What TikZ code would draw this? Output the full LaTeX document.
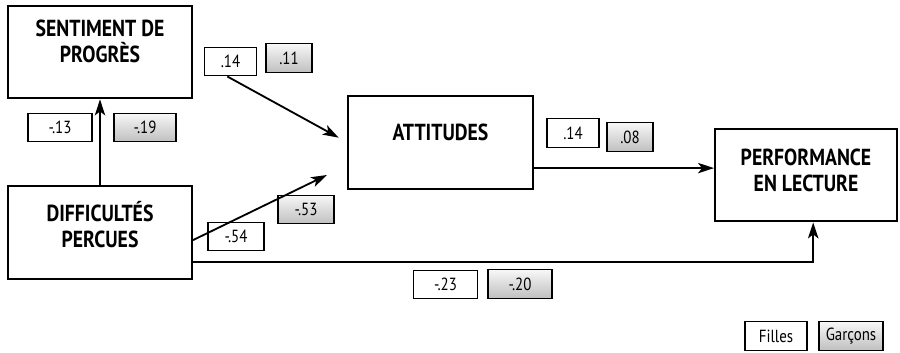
\documentclass[tikz,border=0pt]{standalone}
\usepackage{fontspec}
\setmainfont{PT Sans}[FakeStretch=0.85]
\usetikzlibrary{arrows.meta}

\begin{document}
\begin{tikzpicture}[x=0.025cm, y=-0.025cm,
    facteur/.style={draw, line width=1.4pt, minimum width=4.6cm, minimum height=2.32cm},
    titre/.style={align=center, font=\fontsize{16.5}{18.5}\selectfont\bfseries},
    coefF/.style={draw, line width=0.8pt, minimum height=0.72cm, inner sep=1pt, font=\fontsize{12.5}{14}\selectfont},
    coefG/.style={coefF, top color=gray!6, bottom color=gray!50},
    fleche/.style={line width=1.3pt, -{Stealth[length=4mm, width=2.6mm, inset=1mm]}}]
    \useasboundingbox (0,0) rectangle (900,353);

    % les quatre facteurs
    \node[facteur, label={[titre, yshift=0.26cm]center:SENTIMENT DE\\PROGRÈS}] (sent) at (100,52) {};
    \node[facteur, label={[titre, yshift=0.19cm]center:DIFFICULTÉS\\PERCUES}] (diff) at (100,232.5) {};
    \node[facteur, label={[titre, yshift=0.26cm]center:ATTITUDES}] (att) at (440.5,142.5) {};
    \node[facteur, minimum width=4.55cm, label={[titre, yshift=0.11cm]center:PERFORMANCE\\EN LECTURE}] (perf) at (806,175) {};

    % coefficients (filles / garcons)
    \node[coefF, minimum width=1.6cm] (c13f) at (60,127.5) {-.13};
    \node[coefG, minimum width=1.55cm] (c13g) at (145,127.5) {-.19};
    \node[coefF, minimum width=1.32cm] (c14f) at (230.5,61.5) {.14};
    \node[coefG, minimum width=1.15cm] (c14g) at (289,58) {.11};
    \node[coefF, minimum width=1.4cm] (c54f) at (236,236.5) {-.54};
    \node[coefG, minimum width=1.4cm] (c54g) at (306,209.5) {-.53};
    \node[coefF, minimum width=1.3cm] (c08f) at (573,133) {.14};
    \node[coefG, minimum width=1.15cm] (c08g) at (630,137) {.08};
    \node[coefF, minimum width=1.58cm] (c23f) at (445.5,284.5) {-.23};
    \node[coefG, minimum width=1.6cm] (c23g) at (520,284) {-.20};

    % legende
    \node[coefF, minimum width=1.55cm] (lfilles) at (776,336) {Filles};
    \node[coefG, minimum width=1.6cm] (lgarcons) at (851,336) {Garçons};

    % fleches
    \coordinate (pointe) at (327,175);
    \draw[fleche] (diff.north) -- (sent.south);
    \draw[fleche, shorten >=0.25cm] ([xshift=-0.08cm]c14f.south) -- (att.west);
    \draw[fleche] ([yshift=-0.19cm]diff.east) -- (pointe);
    \draw[fleche] ([yshift=-0.64cm]att.east) -- ([yshift=-0.64cm]att.east -| perf.west);
    \draw[fleche] ([yshift=-0.74cm]diff.east) -| ([xshift=0.18cm]perf.south);
\end{tikzpicture}
\end{document}
